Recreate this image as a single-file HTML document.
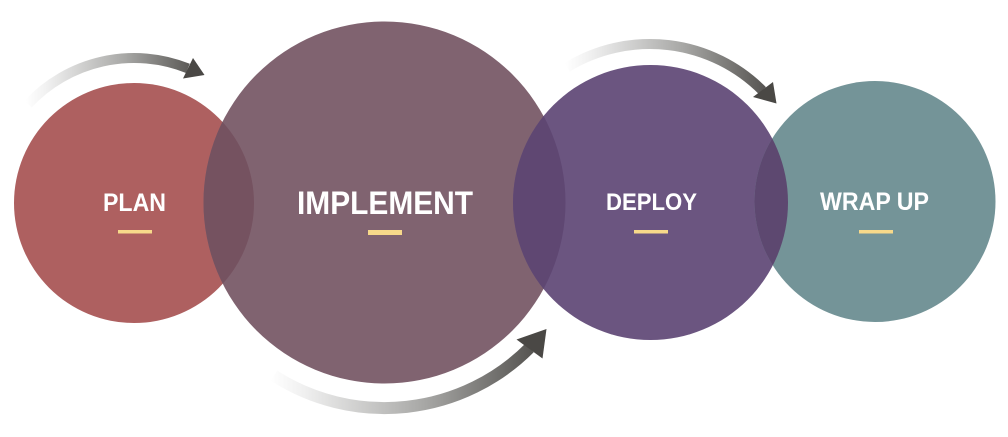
<!DOCTYPE html>
<html>
<head>
<meta charset="utf-8">
<style>
  html, body { margin: 0; padding: 0; background: #ffffff; }
  body { width: 1008px; height: 437px; overflow: hidden; }
  svg { display: block; }
  text { font-family: "Liberation Sans", "DejaVu Sans", sans-serif; font-weight: bold; fill: #ffffff; }
</style>
</head>
<body>
<svg width="1008" height="437" viewBox="0 0 1008 437" xmlns="http://www.w3.org/2000/svg">
  <defs>
    <clipPath id="cPlan"><circle cx="134" cy="203" r="120"/></clipPath>
    <clipPath id="cImpl"><circle cx="384.5" cy="202.5" r="181"/></clipPath>
    <clipPath id="cDep"><circle cx="650.5" cy="202.5" r="137.5"/></clipPath>
    <linearGradient id="g1" gradientUnits="userSpaceOnUse" x1="26" y1="0" x2="205" y2="0">
      <stop offset="0" stop-color="#ffffff"/>
      <stop offset="0.12" stop-color="#f0f0f0"/>
      <stop offset="0.55" stop-color="#a8a8a6"/>
      <stop offset="1" stop-color="#4a4845"/>
    </linearGradient>
    <linearGradient id="g2" gradientUnits="userSpaceOnUse" x1="565" y1="0" x2="778" y2="0">
      <stop offset="0" stop-color="#ffffff"/>
      <stop offset="0.12" stop-color="#f0f0f0"/>
      <stop offset="0.55" stop-color="#a8a8a6"/>
      <stop offset="1" stop-color="#4a4845"/>
    </linearGradient>
    <linearGradient id="g3" gradientUnits="userSpaceOnUse" x1="270" y1="0" x2="549" y2="0">
      <stop offset="0" stop-color="#ffffff"/>
      <stop offset="0.12" stop-color="#f0f0f0"/>
      <stop offset="0.55" stop-color="#a8a8a6"/>
      <stop offset="1" stop-color="#4a4845"/>
    </linearGradient>
  </defs>

  <!-- circles -->
  <circle cx="134" cy="203" r="120" fill="#ae6060"/>
  <circle cx="384.5" cy="202.5" r="181" fill="#806370"/>
  <circle cx="650.5" cy="202.5" r="137.5" fill="#6b5580"/>
  <circle cx="875" cy="201.5" r="120.5" fill="#749498"/>

  <!-- overlaps -->
  <circle cx="384.5" cy="202.5" r="181" fill="#755260" clip-path="url(#cPlan)"/>
  <circle cx="650.5" cy="202.5" r="137.5" fill="#5f4772" clip-path="url(#cImpl)"/>
  <circle cx="875" cy="201.5" r="120.5" fill="#5d4870" clip-path="url(#cDep)"/>

  <!-- arrow 1 (top left) -->
  <path d="M 28 104.1 A 145 145 0 0 1 187.9 68.4" fill="none" stroke="url(#g1)" stroke-width="10"/>
  <polygon points="193,58 204.5,75 183,78.5" fill="#4a4845"/>

  <!-- arrow 2 (top right) -->
  <path d="M 567.2 67.2 A 159 159 0 0 1 762.4 90.6" fill="none" stroke="url(#g2)" stroke-width="10"/>
  <polygon points="773,82 776.5,103.5 753,97" fill="#4a4845"/>

  <!-- arrow 3 (bottom) -->
  <path d="M 274 375.7 A 205 205 0 0 0 529.5 348" fill="none" stroke="url(#g3)" stroke-width="12"/>
  <polygon points="516.5,339.5 546.5,329 542.5,358.5" fill="#4a4845"/>

  <!-- labels -->
  <text x="134.5" y="211" font-size="25" text-anchor="middle" textLength="63" lengthAdjust="spacingAndGlyphs">PLAN</text>
  <rect x="118" y="230" width="34" height="3.5" fill="#f7d98a"/>

  <text x="385" y="214" font-size="32" text-anchor="middle" textLength="176" lengthAdjust="spacingAndGlyphs">IMPLEMENT</text>
  <rect x="368" y="230" width="34" height="5" fill="#f7d98a"/>

  <text x="651.5" y="210" font-size="24" text-anchor="middle" textLength="91" lengthAdjust="spacingAndGlyphs">DEPLOY</text>
  <rect x="634" y="230" width="34" height="3.5" fill="#f7d98a"/>

  <text x="874.5" y="210" font-size="25" text-anchor="middle" textLength="109" lengthAdjust="spacingAndGlyphs">WRAP UP</text>
  <rect x="859" y="230" width="34" height="3.5" fill="#f7d98a"/>
</svg>
</body>
</html>
